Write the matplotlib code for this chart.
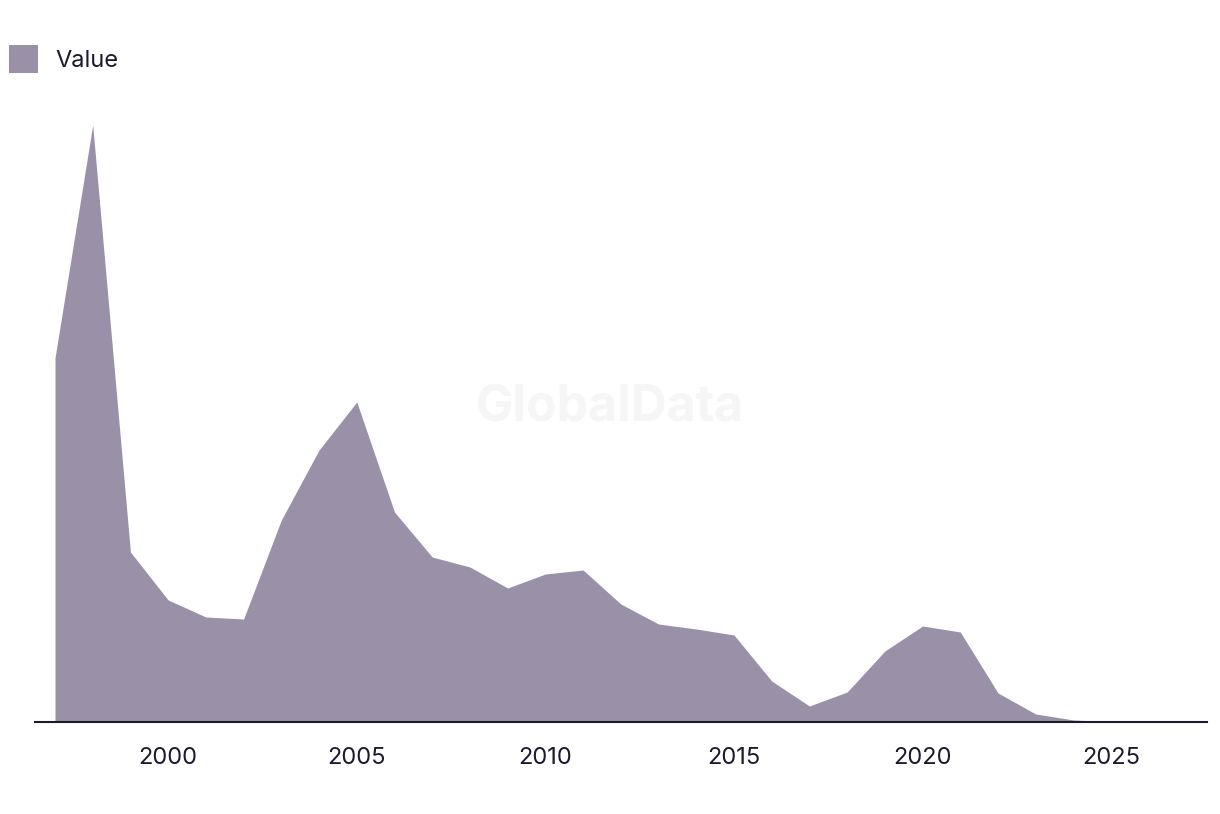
"""Area chart of yearly values, 1997-2025."""
import matplotlib
matplotlib.use("Agg")
import matplotlib.pyplot as plt
from matplotlib.patches import Patch

plt.rcParams["font.family"] = ["Inter", "DejaVu Sans"]

YEARS = list(range(1997, 2026))
VALUES = [364, 597, 170, 122, 105, 103, 202, 272, 320, 210,
          165, 155, 134, 148, 152, 118, 98, 93, 87, 41,
          16, 30, 71, 96, 90, 29, 8, 2, 0.5]
TICKS = [2000, 2005, 2010, 2015, 2020, 2025]

FILL = "#9a91a9"
INK = "#1b1a2e"

fig = plt.figure(figsize=(12.2, 8.14), dpi=100)
ax = fig.add_axes([35 / 1220, 1 - 722 / 814, (1207 - 35) / 1220, (722 - 90) / 814])

ax.fill_between(YEARS, VALUES, 0, color=FILL, linewidth=0)
ax.set_xlim(1996.47, 2027.54)
ax.set_ylim(0, 632)

for side in ["top", "right", "left"]:
    ax.spines[side].set_visible(False)
ax.spines["bottom"].set_color(INK)
ax.spines["bottom"].set_linewidth(1.5)
ax.set_yticks([])
ax.set_xticks(TICKS)
ax.set_xticklabels([str(t) for t in TICKS], fontsize=17, color=INK)
ax.tick_params(axis="x", length=0, pad=18)

fig.text(610 / 1220, 1 - 408 / 814, "GlobalData", fontsize=36, fontweight="bold",
         color="#f6f6f6", ha="center", va="center", zorder=0)

fig.legend(handles=[Patch(facecolor=FILL, edgecolor="none", label="Value")],
           loc="upper left", bbox_to_anchor=(0.0, 1 - 36 / 814), frameon=False,
           fontsize=17, labelcolor=INK, handlelength=1.2, handleheight=1.4,
           handletextpad=0.75, borderaxespad=0.0)

fig.savefig("out.png", dpi=100, facecolor="white")
